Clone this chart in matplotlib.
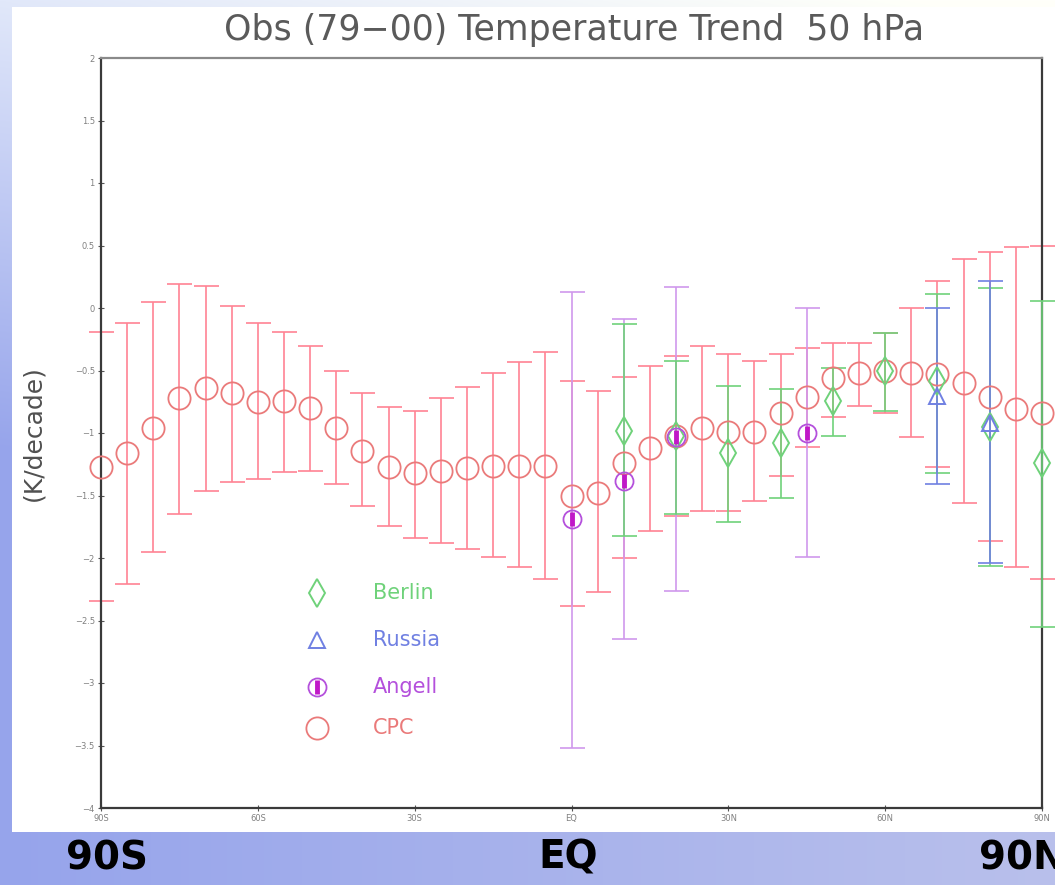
import numpy as np
import matplotlib
matplotlib.use("Agg")
import matplotlib.pyplot as plt

# ---------------- data ----------------
cpc_lat = [-90, -85, -80, -75, -70, -65, -60, -55, -50, -45, -40, -35, -30, -25, -20, -15, -10, -5,
           0, 5, 10, 15, 20, 25, 30, 35, 40, 45, 50, 55, 60, 65, 70, 75, 80, 85, 90]
cpc_val = [-1.27, -1.16, -0.96, -0.72, -0.64, -0.68, -0.75, -0.74, -0.80, -0.96, -1.14, -1.27, -1.32, -1.30,
           -1.28, -1.26, -1.26, -1.26, -1.50, -1.48, -1.24, -1.12, -1.02, -0.96, -0.99, -0.99, -0.84, -0.71,
           -0.56, -0.52, -0.50, -0.52, -0.53, -0.60, -0.71, -0.81, -0.84]
cpc_hi = [-0.19, -0.12, 0.05, 0.19, 0.18, 0.02, -0.12, -0.19, -0.30, -0.50, -0.68, -0.79, -0.82, -0.72,
          -0.63, -0.52, -0.43, -0.35, -0.58, -0.66, -0.55, -0.46, -0.38, -0.30, -0.37, -0.42, -0.37, -0.32,
          -0.28, -0.28, -0.20, 0.00, 0.22, 0.39, 0.45, 0.49, 0.50]
cpc_lo = [-2.34, -2.21, -1.95, -1.65, -1.46, -1.39, -1.37, -1.31, -1.30, -1.41, -1.58, -1.74, -1.84, -1.88,
          -1.93, -1.99, -2.07, -2.17, -2.38, -2.27, -2.00, -1.78, -1.66, -1.62, -1.62, -1.54, -1.34, -1.11,
          -0.87, -0.78, -0.84, -1.03, -1.27, -1.56, -1.86, -2.07, -2.17]

berlin_lat = [10, 20, 30, 40, 50, 60, 70, 80, 90]
berlin_val = [-0.98, -1.02, -1.16, -1.08, -0.74, -0.50, -0.58, -0.95, -1.24]
berlin_hi = [-0.13, -0.42, -0.62, -0.65, -0.48, -0.20, 0.11, 0.16, 0.06]
berlin_lo = [-1.82, -1.65, -1.71, -1.52, -1.02, -0.82, -1.32, -2.06, -2.55]

russia_lat = [70, 80]
russia_val = [-0.70, -0.92]
russia_hi = [0.00, 0.22]
russia_lo = [-1.41, -2.04]

angell_lat = [0, 10, 20, 45]
angell_val = [-1.69, -1.38, -1.03, -1.00]
angell_hi = [0.13, -0.09, 0.17, 0.00]
angell_lo = [-3.52, -2.65, -2.26, -1.99]

xtick_pos = [-90, -60, -30, 0, 30, 60, 90]
xtick_lab = ["90S", "60S", "30S", "EQ", "30N", "60N", "90N"]
ytick_pos = [2, 1.5, 1, 0.5, 0, -0.5, -1, -1.5, -2, -2.5, -3, -3.5, -4]
ytick_lab = ["2", "1.5", "1", "0.5", "0", "\u22120.5", "\u22121", "\u22121.5", "\u22122", "\u22122.5",
             "\u22123", "\u22123.5", "\u22124"]
legend_names = ["Berlin", "Russia", "Angell", "CPC"]
slide_labels = ["90S", "EQ", "90N"]

# ---------------- figure ----------------
W, H = 1055, 885
fig = plt.figure(figsize=(W / 100, H / 100), dpi=100)

# slide background gradient
bg = fig.add_axes([0, 0, 1, 1])
bg.set_xlim(0, W)
bg.set_ylim(H, 0)
bg.axis("off")
yy, xx = np.mgrid[0:H, 0:W]
t = np.clip(yy / 450.0, 0, 1)
r = 225 - 75 * t + 35 * (xx / W)
g = 232 - 68 * t + 28 * (xx / W)
b = 250 - 15 * t
img = np.dstack([r, g, b]).clip(0, 255) / 255.0
bg.imshow(img, extent=[0, W, H, 0], aspect="auto", zorder=0)
bg.add_patch(plt.Rectangle((12, 7), W - 12, 825, facecolor="white", edgecolor="none", zorder=1))

# slide labels
for txt, px in zip(slide_labels, [107, 568, 1022]):
    bg.text(px, 858, txt, fontsize=28, fontweight="bold", color="black",
            ha="center", va="center", zorder=2, family="DejaVu Sans")

# main axes
L, R, T, B = 101, 1042, 58, 808
ax = fig.add_axes([L / W, 1 - B / H, (R - L) / W, (B - T) / H])
ax.set_xlim(-90, 90)
ax.set_ylim(-4, 2)
ax.patch.set_alpha(0)

cpc_bar = "#ff8393"
cpc_mk = "#ea7a7a"
berlin_c = "#6fd27a"
russia_c = "#7080e2"
angell_bar = "#cf98ec"
angell_mk = "#b450dc"
angell_in = "#c018c8"

def ebar(lat, val, hi, lo, color, z):
    v = np.array(val)
    yerr = [v - np.array(lo), np.array(hi) - v]
    ax.errorbar(lat, val, yerr=yerr, fmt="none", ecolor=color, elinewidth=1.2,
                capsize=9, capthick=1.2, zorder=z, clip_on=False)

ebar(cpc_lat, cpc_val, cpc_hi, cpc_lo, cpc_bar, 2)
ebar(angell_lat, angell_val, angell_hi, angell_lo, angell_bar, 3)
ebar(berlin_lat, berlin_val, berlin_hi, berlin_lo, berlin_c, 3)
ebar(russia_lat, russia_val, russia_hi, russia_lo, russia_c, 3)

ax.plot(cpc_lat, cpc_val, linestyle="none", marker="o", markersize=16, markerfacecolor="none",
        markeredgecolor=cpc_mk, markeredgewidth=1.3, zorder=4, clip_on=False)
ax.plot(berlin_lat, berlin_val, linestyle="none", marker="d", markersize=14, markerfacecolor="none",
        markeredgecolor=berlin_c, markeredgewidth=1.4, zorder=5, clip_on=False)
ax.plot(russia_lat, russia_val, linestyle="none", marker="^", markersize=12, markerfacecolor="none",
        markeredgecolor=russia_c, markeredgewidth=1.4, zorder=5, clip_on=False)
ax.plot(angell_lat, angell_val, linestyle="none", marker="o", markersize=13, markerfacecolor="none",
        markeredgecolor=angell_mk, markeredgewidth=1.3, zorder=6, clip_on=False)
ax.plot(angell_lat, angell_val, linestyle="none", marker="|", markersize=10, markeredgewidth=3.5,
        markeredgecolor=angell_in, zorder=7, clip_on=False)

# legend (manual, as in the original)
leg_y = [0.287, 0.224, 0.161, 0.107]
leg_cols = [berlin_c, russia_c, angell_mk, cpc_mk]
mx, tx = 0.230, 0.289
ax.plot([mx], [leg_y[0]], transform=ax.transAxes, marker="d", markersize=14, markerfacecolor="none",
        markeredgecolor=berlin_c, markeredgewidth=1.4, linestyle="none")
ax.plot([mx], [leg_y[1]], transform=ax.transAxes, marker="^", markersize=12, markerfacecolor="none",
        markeredgecolor=russia_c, markeredgewidth=1.4, linestyle="none")
ax.plot([mx], [leg_y[2]], transform=ax.transAxes, marker="o", markersize=13, markerfacecolor="none",
        markeredgecolor=angell_mk, markeredgewidth=1.3, linestyle="none")
ax.plot([mx], [leg_y[2]], transform=ax.transAxes, marker="|", markersize=10, markeredgewidth=3.5,
        markeredgecolor=angell_in, linestyle="none")
ax.plot([mx], [leg_y[3]], transform=ax.transAxes, marker="o", markersize=16, markerfacecolor="none",
        markeredgecolor=cpc_mk, markeredgewidth=1.3, linestyle="none")
for name, yv, c in zip(legend_names, leg_y, leg_cols):
    ax.text(tx, yv, name, transform=ax.transAxes, color=c, fontsize=15, va="center", ha="left")

# axes styling
for s in ax.spines.values():
    s.set_color("#3a3a3a")
    s.set_linewidth(1.6)
ax.spines["top"].set_color("#8a8a8a")
ax.set_xticks(xtick_pos)
ax.set_xticklabels(xtick_lab)
ax.set_yticks(ytick_pos)
ax.set_yticklabels(ytick_lab)
ax.tick_params(axis="both", direction="inout", length=5, width=0.8, color="#555555",
               labelsize=6, labelcolor="#808080", pad=2)
ax.tick_params(axis="x", pad=2)

fig.text(33 / W, 1 - 433 / H, "(K/decade)", rotation=90, ha="center", va="center",
         fontsize=18, color="#505050")
fig.text(574 / W, 1 - 30 / H, "Obs (79\u221200) Temperature Trend  50 hPa", ha="center", va="center",
         fontsize=25, color="#5a5a5a")

fig.savefig("out.png", dpi=100)
